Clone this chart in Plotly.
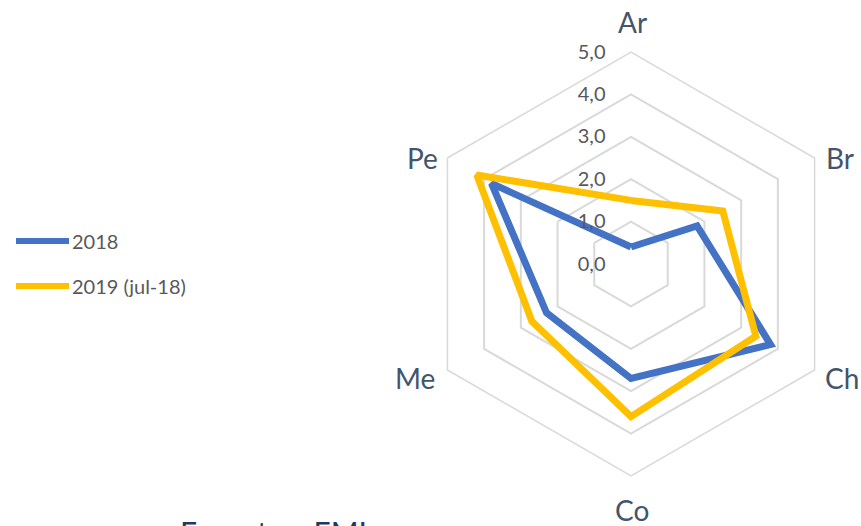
import plotly.graph_objects as go

categories = ["Ar", "Br", "Ch", "Co", "Me", "Pe"]
series_names = ["2018", "2019 (jul-18)"]
values_2018 = [0.4, 1.8, 3.8, 2.7, 2.3, 3.8]
values_2019 = [1.5, 2.5, 3.4, 3.6, 2.7, 4.2]
radial_ticks = [0, 1, 2, 3, 4, 5]
title_text = "Exporta\u00a0\u00a0\u00a0\u00a0EMI"

colors = ["#4472C4", "#FFC000"]
W, H = 861, 526

fig = go.Figure()
for name, vals, col in zip(series_names, [values_2018, values_2019], colors):
    fig.add_trace(go.Scatterpolar(
        r=vals + vals[:1],
        theta=categories + categories[:1],
        mode="lines",
        name=name,
        line=dict(color=col, width=7),
        showlegend=False,
        hoverinfo="skip",
    ))

cx, cy, R = 631, 264, 212
font = "Lato, 'Open Sans', sans-serif"

fig.update_layout(
    width=W, height=H,
    margin=dict(l=0, r=0, t=0, b=0),
    paper_bgcolor="white",
    plot_bgcolor="white",
    separators=", ",
    font=dict(family=font),
    polar=dict(
        domain=dict(x=[(cx - R) / W, (cx + R) / W], y=[1 - (cy + R) / H, 1 - (cy - R) / H]),
        bgcolor="white",
        gridshape="linear",
        radialaxis=dict(
            range=[0, 5], tickvals=radial_ticks, tickformat=".1f",
            angle=90, side="counterclockwise", tickangle=90,
            showline=False, gridcolor="#D9D9D9", gridwidth=1.5,
            ticks="outside", ticklen=18, tickcolor="rgba(0,0,0,0)",
            tickfont=dict(size=20, color="#595959", family=font),
        ),
        angularaxis=dict(
            direction="clockwise", rotation=90,
            showgrid=False, showline=True, linecolor="#D9D9D9", linewidth=1.5,
            showticklabels=False, ticks="",
        ),
    ),
)

# category labels beside the hexagon vertices
label_pos = {"Ar": (632, 22), "Br": (840, 158), "Ch": (842, 378),
             "Co": (632, 510), "Me": (415, 378), "Pe": (422, 158)}
for c in categories:
    px, py = label_pos[c]
    fig.add_annotation(xref="paper", yref="paper", x=px / W, y=1 - py / H,
                       xanchor="center", yanchor="middle", showarrow=False,
                       text=c, font=dict(size=28, color="#44546A", family=font))

# custom legend
legend_y = [241, 286]
for name, col, ly in zip(series_names, colors, legend_y):
    fig.add_shape(type="line", xref="paper", yref="paper",
                  x0=16 / W, x1=69 / W, y0=1 - ly / H, y1=1 - ly / H,
                  line=dict(color=col, width=6))
    fig.add_annotation(xref="paper", yref="paper", x=70 / W, y=1 - ly / H,
                       xanchor="left", yanchor="middle", showarrow=False,
                       text=name, font=dict(size=20, color="#595959", family=font))

fig.add_annotation(xref="paper", yref="paper", x=178 / W, y=1 - 512 / H,
                   xanchor="left", yanchor="top", showarrow=False,
                   text=title_text, font=dict(size=30, color="#203864", family=font))

fig.write_html("out.html")
